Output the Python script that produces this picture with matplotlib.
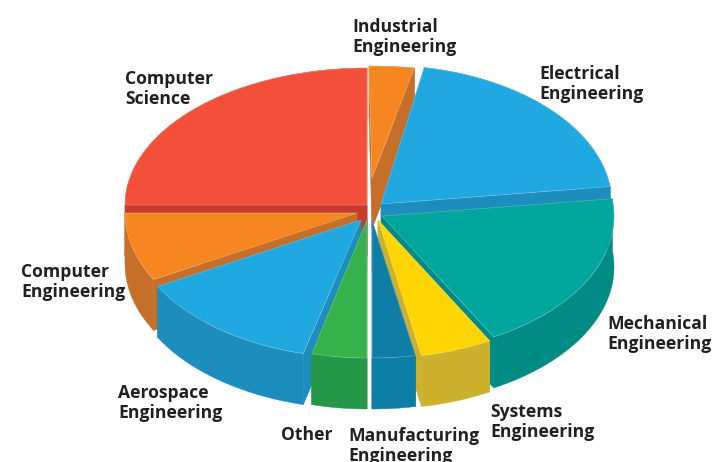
"""
Engineering majors, exploded 3D pie drawn from polygons
"""

import matplotlib.pyplot as plt
from matplotlib.patches import Polygon
import numpy as np

# data, percent of the pie
majors = ['Computer\nScience', 'Computer\nEngineering', 'Aerospace\nEngineering',
          'Other', 'Manufacturing\nEngineering', 'Systems\nEngineering',
          'Mechanical\nEngineering', 'Electrical\nEngineering', 'Industrial\nEngineering']
shares = [25, 8, 13, 4, 3, 5, 19, 20, 3]

# ellipse centre x, y, radius x, radius y for each slice (pixels)
geometry = [
    (367, 205, 242, 137),
    (357, 213, 232, 138),
    (361, 220, 232, 138),
    (367, 220, 222, 138),
    (372, 220, 232, 138),
    (378, 220, 232, 138),
    (382, 216, 232, 138),
    (381, 204, 231, 139),
    (369, 178, 242, 112),
]
# the industrial slice has its tip a little off its ellipse centre
tip_shift = [0, 0, 0, 0, 0, 0, 0, 0, 3]

top_colors = ['#F44F3A', '#F68620', '#20A8E0', '#35B34A', '#0F7EA6',
              '#FFD500', '#00A69E', '#20A8E0', '#F68620']
wall_colors = ['#C63D2D', '#C66F2B', '#1C8DBD', '#249749', '#0D7FA5',
               '#CDB02C', '#008C85', '#1C8DBD', '#C66F2B']

label_pos = [(125, 89), (21, 282), (118, 403), (281, 435), (348, 446),
             (490, 422), (607, 334), (539, 84), (352, 37)]

depth = 51
draw_order = [0, 8, 7, 6, 5, 4, 1, 2, 3]

fig = plt.figure(figsize=(7.13, 4.62), dpi=100)
ax = fig.add_axes([0, 0, 1, 1])
ax.set_xlim(0, 713)
ax.set_ylim(462, 0)
ax.axis('off')

# angles run counter clockwise from the top of the pie
edges = 90 + 360 * np.cumsum([0] + shares) / sum(shares)

for i in draw_order:
    cx, cy, rx, ry = geometry[i]
    t = np.radians(np.linspace(edges[i], edges[i + 1], 100))
    rim = np.column_stack([cx + rx * np.cos(t), cy - ry * np.sin(t)])
    tip = np.array([cx + tip_shift[i], cy])
    down = np.array([0, depth])

    wall = wall_colors[i]
    for end in (rim[0], rim[-1]):
        ax.add_patch(Polygon([tip, end, end + down, tip + down],
                             facecolor=wall, edgecolor=wall, linewidth=0.3))
    ax.add_patch(Polygon(np.vstack([rim, (rim + down)[::-1]]),
                         facecolor=wall, edgecolor=wall, linewidth=0.3))
    ax.add_patch(Polygon(np.vstack([tip, rim]), facecolor=top_colors[i],
                         edgecolor=(1, 1, 1, 0.3), linewidth=0.5))

for name, (x, y) in zip(majors, label_pos):
    ax.text(x, y, name, family='Open Sans', fontweight='bold', fontsize=12.6,
            color='#231F20', ha='left', va='center', linespacing=1.2)

fig.savefig('out.png', dpi=100)
